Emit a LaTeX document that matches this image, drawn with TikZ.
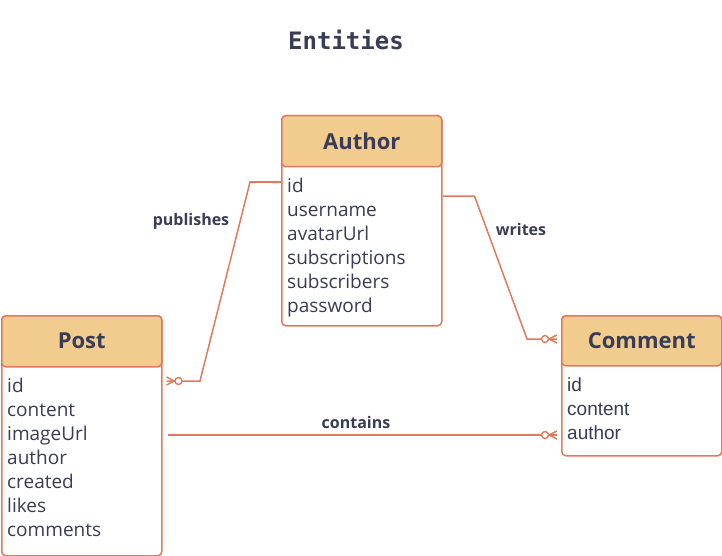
\documentclass[tikz,border=0pt]{standalone}
\usepackage{fontspec}
\setmainfont{Open Sans}
\newfontfamily\helvfont{Liberation Sans}
\newfontfamily\titlefont{DejaVu Sans Mono}
\usepackage{tikz}
\usetikzlibrary{calc,decorations.markings}
\definecolor{erline}{HTML}{E07A5F}
\definecolor{erhead}{HTML}{F2CC8F}
\definecolor{ertext}{HTML}{393C56}

\begin{document}
\begin{tikzpicture}[x=1pt,y=-1pt,
  box/.style={draw=erline,line width=1.5pt,fill=white,rounded corners=4pt,inner sep=0pt,anchor=north west},
  head/.style={box,fill=erhead,text=ertext,font=\fontsize{22}{26}\selectfont\bfseries},
  field/.style={anchor=base west,inner sep=0pt,text=ertext,font=\fontsize{19}{24}\selectfont},
  zeromany/.style={postaction={decorate,decoration={markings,mark=at position 1 with {
      \draw[erline,line width=1.4pt] (-8,0) -- (0,4) (-8,0) -- (0,-4);
      \draw[erline,line width=1.4pt,fill=white] (-12,0) circle (3.5pt);}}}},
  rel/.style={draw=erline,line width=1.5pt,zeromany},
  lbl/.style={text=ertext,font=\fontsize{16}{20}\selectfont\bfseries}]
\useasboundingbox (0,0) rectangle (722,556);

\node [text=ertext,font=\titlefont\fontsize{24}{28}\selectfont\bfseries] (title) at (346,40) {Entities};

% Author
\node [box,minimum width=160pt,minimum height=210pt] (author) at (281,115) {};
\node [head,minimum width=160pt,minimum height=51pt] (authortitle) at (281,115) {Author};
\foreach \f [count=\i] in {id,username,avatarUrl,subscriptions,subscribers,password}
  \node [field] (author\i) at (287,168+24*\i) {\f};

% Post
\node [box,minimum width=160pt,minimum height=240pt] (post) at (1,315) {};
\node [head,minimum width=160pt,minimum height=51pt] (posttitle) at (1,315) {Post};
\foreach \f [count=\i] in {id,content,imageUrl,author,created,likes,comments}
  \node [field] (post\i) at (7,368+24*\i) {\f};

% Comment
\node [box,minimum width=160pt,minimum height=140pt] (comment) at (561,315) {};
\node [head,minimum width=160pt,minimum height=50pt] (commenttitle) at (561,315) {Comment};
\foreach \f [count=\i] in {id,content,author}
  \node [field,font=\helvfont\fontsize{19}{24}\selectfont] (comment\i) at (567,367+24*\i) {\f};

% relations
\draw [rel] ($(author.north west)+(0,67)$) -- ++(-31,0) -- (200,381) -- ($(post.north east)+(4,66)$);
\node [lbl] (publishes) at (191,221) {publishes};

\draw [rel] ($(author.north east)+(0,81)$) -- ++(32,0) -- (527,339) -- ($(comment.north west)+(-4,24)$);
\node [lbl] (writes) at (521,229) {writes};

\draw [rel] ($(post.north east)+(5,120)$) -- ($(comment.north west)+(-4,120)$);
\node [lbl] (contains) at (356,422) {contains};

\end{tikzpicture}
\end{document}
